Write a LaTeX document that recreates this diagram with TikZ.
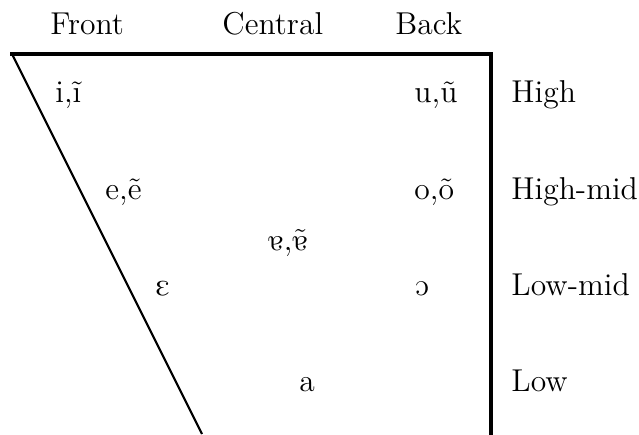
\documentclass[tikz,border=0pt]{standalone}
\usepackage{tipa}
\usetikzlibrary{positioning}

\begin{document}
\begin{tikzpicture}[
    x=0.016cm, y=-0.016cm,
    font=\Large,
    edge/.style={line width=1.7pt, line cap=rect},
    slope/.style={line width=1pt},
    label/.style={anchor=base west, inner sep=0pt}
]
\useasboundingbox (0,0) rectangle (639,434);

% chart outline
\coordinate (tl) at (12,54);
\coordinate (tr) at (491,54);
\coordinate (br) at (491,434);
\coordinate (bl) at (202,434);
\draw[slope] (bl) -- (tl);
\draw[edge] (tl) -- (tr) -- (br);

% columns
\node[label] (front) at (50,35) {Front};
\node[label] (central) at (222,35) {Central};
\node[label] (back) at (395,35) {Back};

% vowels
\node[label] (i) at (55,103) {i,\~{\i}};
\node[label] (u) at (414,103) {u,\~u};
\node[label] (e) at (105,199) {e,\~e};
\node[label] (o) at (414,199) {o,\~o};
\node[label] (ae) at (268,250) {\textipa{5,\~5}};
\node[label] (eps) at (155,295) {\textipa{E}};
\node[label] (oo) at (415,295) {\textipa{O}};
\node[label] (a) at (299,391) {a};

% heights
\node[label] (high) at (511,103) {High};
\node[label] (highmid) at (511,199) {High-mid};
\node[label] (lowmid) at (511,295) {Low-mid};
\node[label] (low) at (511,391) {Low};

\end{tikzpicture}
\end{document}
